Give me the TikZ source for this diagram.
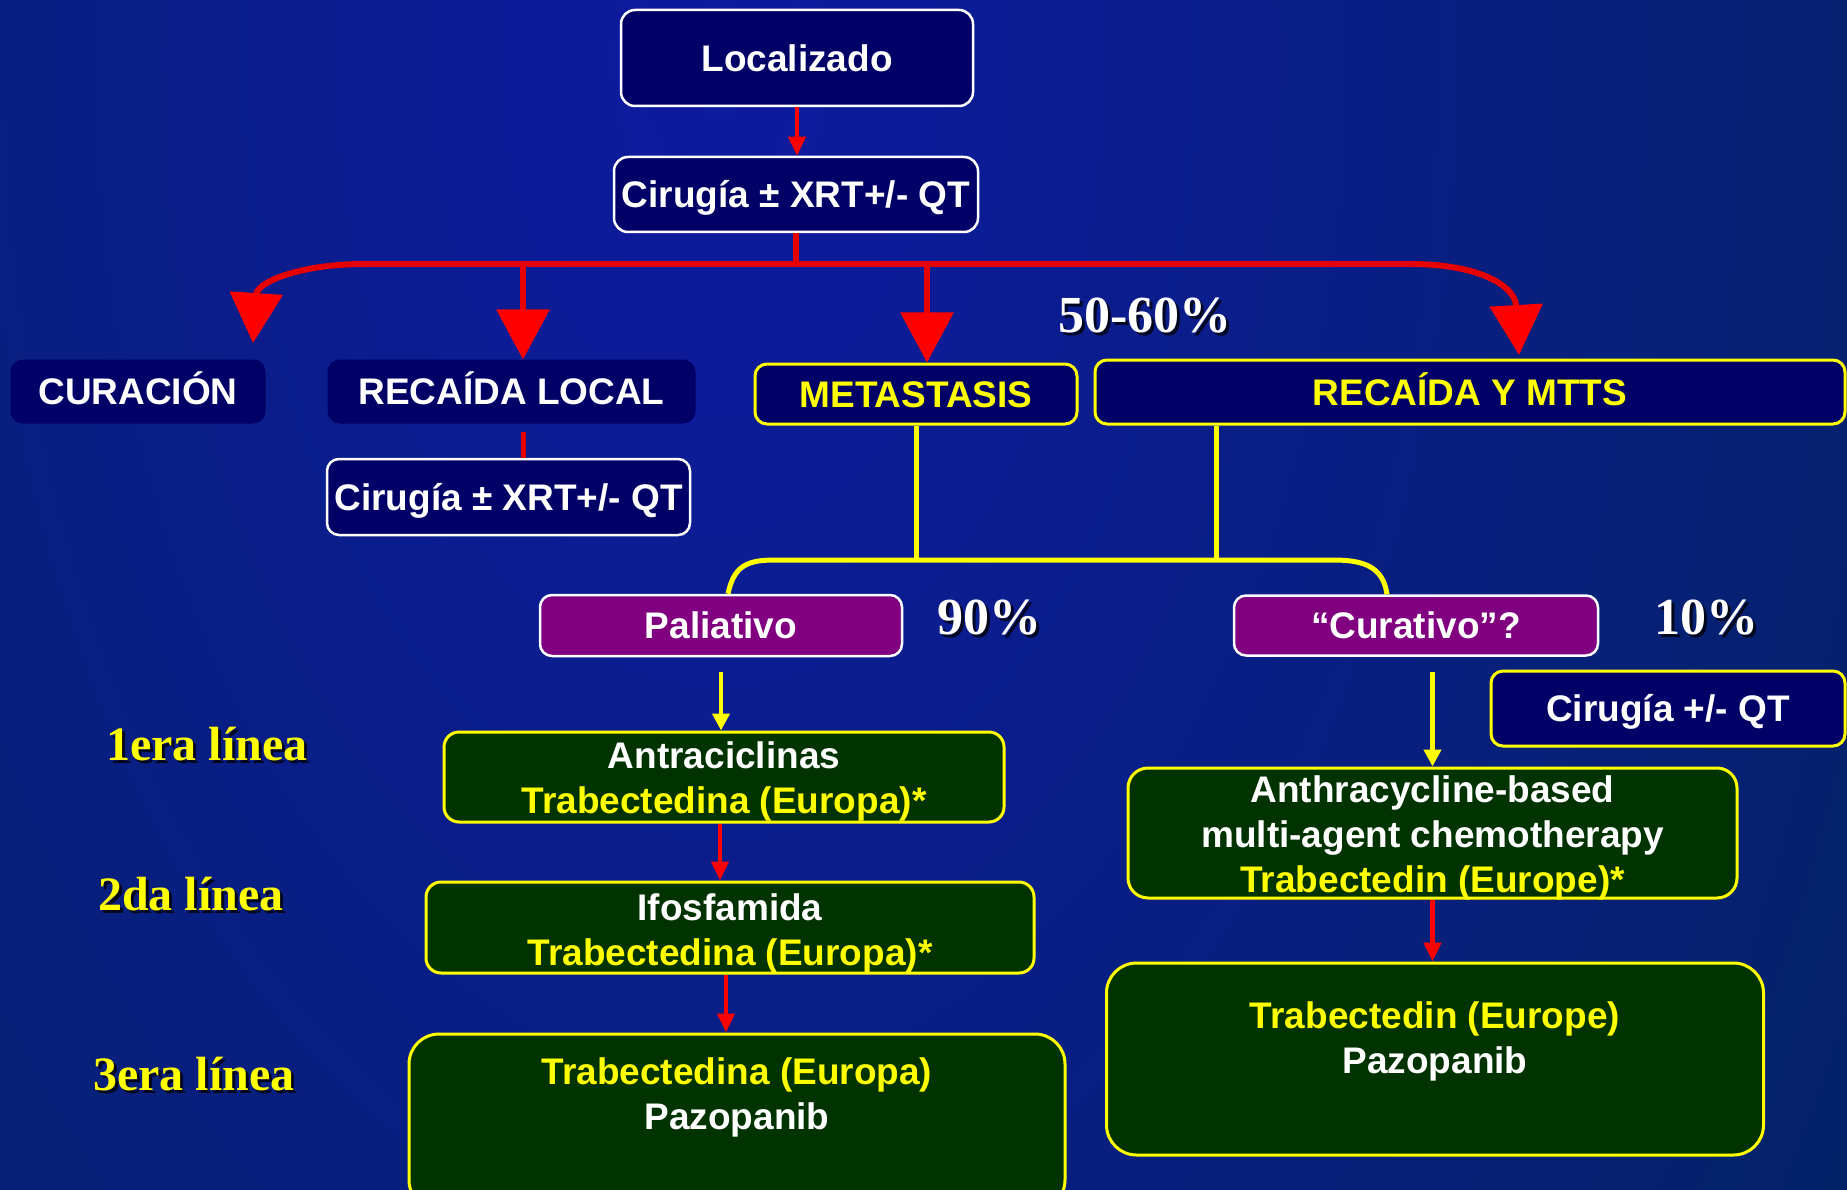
\documentclass[tikz,border=0pt]{standalone}
\usepackage{fontspec}
\setmainfont{Liberation Sans}
\newfontfamily\serifb{Liberation Serif}
\usetikzlibrary{arrows.meta,calc}

\definecolor{bgA}{RGB}{14,26,160}
\definecolor{bgB}{RGB}{2,36,92}
\definecolor{navy}{RGB}{0,0,102}
\definecolor{purp}{RGB}{128,0,128}
\definecolor{dgreen}{RGB}{0,51,0}
\definecolor{yel}{RGB}{255,255,0}
\definecolor{arrowred}{RGB}{255,0,0}
\definecolor{linered}{RGB}{230,0,0}

\newcommand\boxfont{\fontsize{37}{45}\selectfont\bfseries}
\newcommand\pctfont{\serifb\bfseries\fontsize{52}{60}\selectfont}
\newcommand\lineafont{\serifb\bfseries\fontsize{48}{56}\selectfont}

% text with a dark drop shadow: name, base-west position, colour, font, text
\newcommand\shadowlabel[5]{%
  \node[anchor=base west,inner sep=0pt,text=black,opacity=.75,font=#4] at ($(#2)+(3,3)$) {#5};
  \node[anchor=base west,inner sep=0pt,text=#3,font=#4] (#1) at (#2) {#5};}

\tikzset{
  box/.style={rectangle,inner sep=0pt,align=center,font=\boxfont,text=white},
  oneline/.style={text height=30pt,text depth=3.5pt},
  navywhite/.style={box,oneline,fill=navy,draw=white,line width=2.5pt,rounded corners=14pt},
  navyplain/.style={box,oneline,fill=navy,draw=navy,line width=1pt,rounded corners=12pt},
  navyyellow/.style={box,oneline,fill=navy,draw=yel,line width=3pt,rounded corners=12pt,text=yel},
  purplebox/.style={box,oneline,fill=purp,draw=white,line width=2.5pt,rounded corners=12pt},
  greenbox/.style={box,fill=dgreen,draw=yel,line width=3pt,rounded corners=15pt},
  biggreen/.style={greenbox,rounded corners=30pt},
  redline/.style={draw=linered,line width=6pt},
  redbig/.style={draw=linered,line width=6pt,-{Triangle[width=52pt,length=50pt,color=arrowred]}},
  redthin/.style={draw=arrowred,line width=4.5pt,-{Triangle[width=17pt,length=19pt]}},
  yline/.style={draw=yel,line width=5pt},
  yarrow/.style={draw=yel,line width=4.5pt,-{Triangle[width=17pt,length=17pt]}},
}

\begin{document}
\begin{tikzpicture}[x=1pt,y=-1pt]
\useasboundingbox (0,0) rectangle (1847,1190);
\begin{scope}
  \clip (0,0) rectangle (1847,1190);
  % background glow
  \shade[inner color=bgA,outer color=bgB] (720,60) ellipse (1600 and 2600);

  % upper part of the flow
  \node[navywhite,minimum width=352pt,minimum height=96pt] (loc) at (797,58) {Localizado};
  \node[navywhite,minimum width=364pt,minimum height=75pt] (cir1) at (796,194.5) {Cirugía ± XRT+/- QT};

  \node[navyplain,minimum width=254pt,minimum height=63pt] (cur) at (138,391.5) {CURACIÓN};
  \node[navyplain,minimum width=367pt,minimum height=63pt] (rl) at (511.5,391.5) {RECAÍDA LOCAL};
  \node[navyyellow,minimum width=322pt,minimum height=60pt] (met) at (916,394) {METASTASIS};
  \node[navyyellow,minimum width=750pt,minimum height=64pt] (rym) at (1470,392) {RECAÍDA Y MTTS};
  \node[navywhite,rounded corners=12pt,minimum width=363pt,minimum height=76pt] (cir2) at (508.5,497) {Cirugía ± XRT+/- QT};

  \node[purplebox,minimum width=362pt,minimum height=61pt] (pal) at (721,625.5) {Paliativo};
  \node[purplebox,minimum width=364pt,minimum height=60pt] (cura) at (1416,625.5) {“Curativo”?};
  \node[navyyellow,text=white,minimum width=354pt,minimum height=75pt] (cqt) at (1668,708.5) {Cirugía +/- QT};

  % treatment lines: boxes, then their texts
  \node[greenbox,minimum width=560pt,minimum height=90pt] (g1) at (724,777) {};
  \node[box] (g1t) at ($(g1.center)+(0,4)$)
    {Antraciclinas\\\textcolor{yel}{Trabectedina (Europa)*}};
  \node[greenbox,minimum width=608pt,minimum height=91pt] (g2) at (730,927.5) {};
  \node[box] (g2t) at ($(g2.center)+(0,5.5)$)
    {Ifosfamida\\\textcolor{yel}{Trabectedina (Europa)*}};
  \node[biggreen,minimum width=656pt,minimum height=176pt] (g3) at (737,1122) {};
  \node[box,anchor=north] (g3t) at ($(g3.north)+(0,24.5)$)
    {\textcolor{yel}{Trabectedina (Europa)}\\Pazopanib};

  \node[greenbox,rounded corners=20pt,minimum width=609pt,minimum height=130pt] (r1) at (1432.5,833) {};
  \node[box] (r1t) at ($(r1.center)+(0,5)$)
    {Anthracycline-based\\multi-agent chemotherapy\\\textcolor{yel}{Trabectedin (Europe)*}};
  \node[biggreen,minimum width=657pt,minimum height=192pt] (r2) at (1435,1059) {};
  \node[box,anchor=north] (r2t) at ($(r2.north)+(0,39.5)$)
    {\textcolor{yel}{Trabectedin (Europe)}\\Pazopanib};

  % percentages and line labels
  \shadowlabel{p5060}{1058,332}{white}{\pctfont}{50-60\%}
  \shadowlabel{p90}{937,634}{white}{\pctfont}{90\%}
  \shadowlabel{p10}{1654,634}{white}{\pctfont}{10\%}
  \shadowlabel{l1}{106,760}{yel}{\lineafont}{1era línea}
  \shadowlabel{l2}{98,910}{yel}{\lineafont}{2da línea}
  \shadowlabel{l3}{93,1090}{yel}{\lineafont}{3era línea}

  % red branching below the first surgery
  \coordinate (busL) at (365,264);
  \coordinate (busR) at (1410,264);
  \coordinate (dropRL) at (523,264);
  \coordinate (dropM) at (927,264);
  \coordinate (curTip) at (253,343);
  \coordinate (rymTip) at (1519,355);

  \draw[redthin] (loc.south) -- (loc.south |- cir1.north);
  \draw[redline,line width=5.5pt] (cir1.south) -- (cir1.south |- busL);
  \draw[redline] (busL) -- (busR);
  \draw[redbig] (busL) .. controls (300,264) and (257,282) .. (curTip);
  \draw[redbig] (busR) .. controls (1478,264) and (1515,285) .. (rymTip);
  \draw[redbig] (dropRL) -- (dropRL |- rl.north);
  \draw[redbig] (dropM) -- (dropM |- met.north);
  \draw[redline,line width=5pt] ($(rl.south)+(11.5,8)$) -- ($(cir2.north)+(14.5,0)$);

  % yellow branching of metastatic disease
  \coordinate (yb) at (916,560);
  \draw[yline] (met.south) -- (met.south |- yb);
  \draw[yline] ([xshift=-253.5pt]rym.south) -- ([xshift=-253.5pt]rym.south |- yb);
  \draw[yline] ([xshift=7pt]pal.north) .. controls +(6,-28) and +(-28,0) .. (775,560)
    -- (1333,560) .. controls +(30,0) and +(-4,-28) .. ([xshift=-29pt]cura.north);

  \draw[yarrow] ($(pal.south)+(0,15)$) -- (pal.south |- g1.north);
  \draw[yarrow] ($(cura.south -| r1.north)+(0,15)$) -- (r1.north);

  \draw[redthin] ($(g1.south)+(-4,0)$) -- ($(g1.south |- g2.north)+(-4,0)$);
  \draw[redthin] ($(g2.south)+(-4,0)$) -- ($(g2.south |- g3.north)+(-4,0)$);
  \draw[redthin] (r1.south) -- (r1.south |- r2.north);
\end{scope}
\end{tikzpicture}
\end{document}
